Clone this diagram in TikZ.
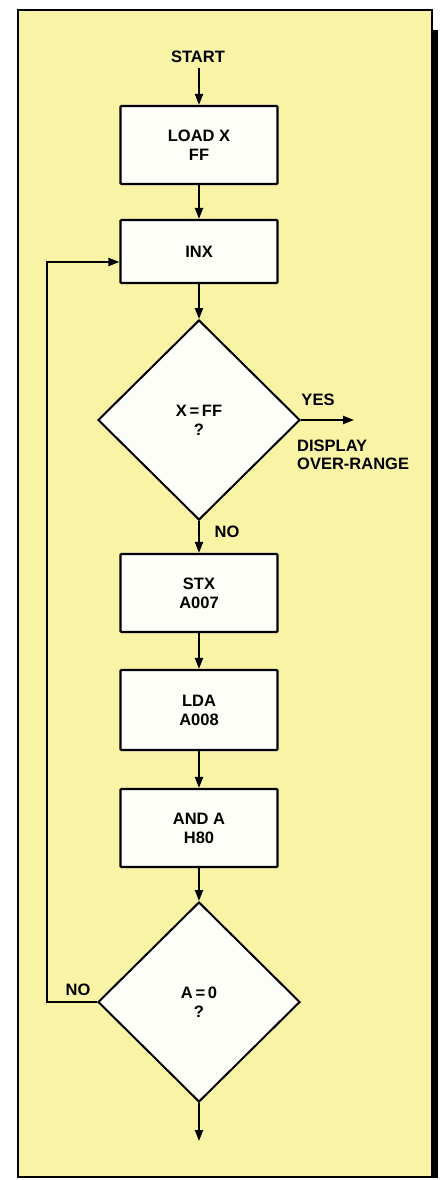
\documentclass[tikz,border=0pt]{standalone}
\usepackage{fontspec}
\setmainfont{Liberation Sans}
\usetikzlibrary{shapes.geometric,arrows.meta}
\definecolor{bgyellow}{RGB}{249,243,166}
\definecolor{boxfill}{RGB}{254,254,248}
\tikzset{
  lbl/.style={font=\bfseries\fontsize{16.5}{18.5}\selectfont, inner sep=0pt, align=center},
  procbox/.style={draw=black, line width=2.2pt, fill=boxfill, minimum width=157pt, rounded corners=1pt,
    font=\bfseries\fontsize{16.5}{19}\selectfont, align=center, inner sep=0pt},
  decision/.style={diamond, draw=black, line width=2pt, fill=boxfill, minimum width=202pt, minimum height=200pt,
    font=\bfseries\fontsize{16.5}{19}\selectfont, align=center, inner sep=0pt},
  arr/.style={line width=2pt, -{Triangle[length=11pt,width=8pt]}},
}
\begin{document}
\begin{tikzpicture}[x=1pt,y=-1pt]
\useasboundingbox (0,0) rectangle (446,1180);
% frame
\fill[white] (0,0) rectangle (446,1180);
\draw[fill=bgyellow, line width=1.5pt] (18,10) rectangle (432,1177);
\fill[black] (431,30) rectangle (438,1178);
% nodes
\node[lbl] (start) at (198,57) {START};
\node[procbox, minimum height=78pt] (load) at (199,145) {LOAD X\\FF};
\node[procbox, minimum height=63pt] (inx) at (199,251.5) {INX};
\node[decision] (d1) at (199,420) {X\,=\,FF\\?};
\node[procbox, minimum height=78pt] (stx) at (199,593) {STX\\A007};
\node[procbox, minimum height=80pt] (lda) at (199,710) {LDA\\A008};
\node[procbox, minimum height=78pt] (anda) at (199,828) {AND A\\H80};
\node[decision] (d2) at (199,1002) {A\,=\,0\\?};
\coordinate (startend) at (199,68);
\coordinate (yesend) at (354,420);
\coordinate (endpt) at (199,1141);
\coordinate (lpb) at (47,1002);
\coordinate (lpt) at (47,262);
% labels
\node[lbl] (yes) at (318,400) {YES};
\node[lbl, anchor=west, align=left] (disp) at (297,455) {DISPLAY\\OVER-RANGE};
\node[lbl] (no1) at (227,532) {NO};
\node[lbl] (no2) at (78,990) {NO};
% connectors
\draw[arr] (startend) -- (load.north);
\draw[arr] (load.south) -- (inx.north);
\draw[arr] (inx.south) -- (d1.north);
\draw[arr] (d1.east) -- (yesend);
\draw[arr] (d1.south) -- (stx.north);
\draw[arr] (stx.south) -- (lda.north);
\draw[arr] (lda.south) -- (anda.north);
\draw[arr] (anda.south) -- (d2.north);
\draw[arr] (d2.south) -- (endpt);
\draw[arr, line join=miter] (d2.west) -- (lpb) -- (lpt) -- (inx.west |- lpt);
\end{tikzpicture}
\end{document}
